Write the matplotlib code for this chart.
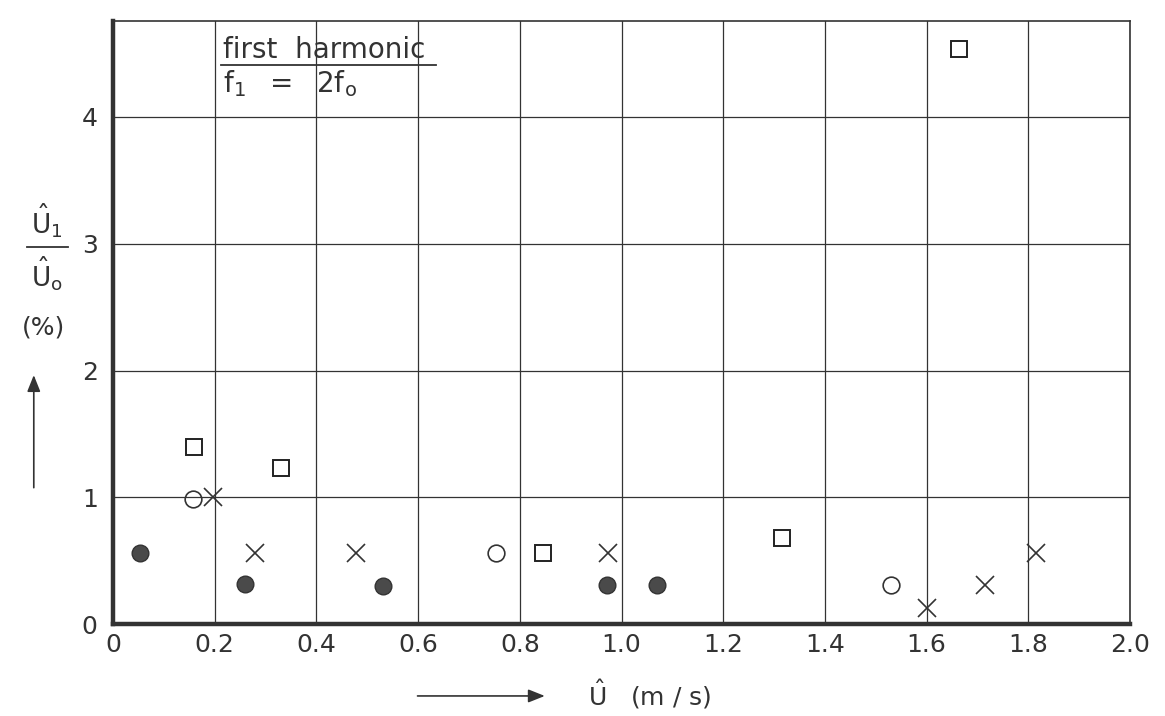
import matplotlib
matplotlib.use("Agg")
import matplotlib.pyplot as plt

# ---- data ----
filled_x = [0.053, 0.26, 0.53, 0.972, 1.07]
filled_y = [0.56, 0.32, 0.30, 0.31, 0.31]

open_x = [0.158, 0.753, 1.53]
open_y = [0.99, 0.56, 0.31]

square_x = [0.16, 0.33, 0.845, 1.315, 1.664]
square_y = [1.40, 1.23, 0.56, 0.68, 4.53]

cross_x = [0.196, 0.28, 0.477, 0.973, 1.60, 1.715, 1.815]
cross_y = [1.00, 0.56, 0.56, 0.56, 0.13, 0.31, 0.56]

x_ticks = [0, 0.2, 0.4, 0.6, 0.8, 1.0, 1.2, 1.4, 1.6, 1.8, 2.0]
x_ticklabels = ["0", "0.2", "0.4", "0.6", "0.8", "1.0", "1.2", "1.4", "1.6", "1.8", "2.0"]
y_ticks = [0, 1, 2, 3, 4]
y_ticklabels = ["0", "1", "2", "3", "4"]

plt.rcParams['font.family'] = ['DejaVu Sans']
plt.rcParams['mathtext.default'] = 'regular'
plt.rcParams['mathtext.fontset'] = 'dejavusans'

INK = '#333333'

fig = plt.figure(figsize=(11.65, 7.16), dpi=100)
ax = fig.add_axes([0.097, 0.128, 0.873, 0.842])
ax.set_xlim(0, 2.0)
ax.set_ylim(0, 4.75)

ax.set_xticks(x_ticks)
ax.set_xticklabels(x_ticklabels)
ax.set_yticks(y_ticks)
ax.set_yticklabels(y_ticklabels)
ax.tick_params(axis='both', length=0, labelsize=18, colors=INK)
ax.tick_params(axis='x', pad=6)
ax.tick_params(axis='y', pad=11)
ax.grid(True, color=INK, lw=0.9)
ax.set_axisbelow(True)

for s in ['top', 'right']:
    ax.spines[s].set_linewidth(1.2)
    ax.spines[s].set_color(INK)
for s in ['left', 'bottom']:
    ax.spines[s].set_linewidth(3.2)
    ax.spines[s].set_color(INK)

ax.plot(filled_x, filled_y, 'o', ms=12, mfc='#4a4a4a', mec='#333333', mew=1.0, ls='none', zorder=3)
ax.plot(open_x, open_y, 'o', ms=12, mfc='none', mec=INK, mew=1.2, ls='none', zorder=3)
ax.plot(square_x, square_y, 's', ms=12, mfc='none', mec='#222222', mew=1.4, ls='none', zorder=3)
ax.plot(cross_x, cross_y, 'x', ms=13, mec=INK, mew=1.2, ls='none', zorder=3)

# annotation text
ax.text(0.217, 4.46, "first  harmonic", fontsize=20, color=INK, ha='left', va='baseline')
ax.plot([0.213, 0.635], [4.41, 4.41], color=INK, lw=1.3, clip_on=False)
ax.text(0.217, 4.19, r"$f_1\ \ =\ \ 2f_o$", fontsize=20, color=INK, ha='left', va='baseline')

# y label (stacked fraction, percent and arrow)
fig.text(0.040, 0.665, r"$\hat{U}_1$", fontsize=19, color=INK, ha='center', va='bottom')
fig.add_artist(plt.Line2D([0.023, 0.058], [0.655, 0.655], color=INK, lw=1.3))
fig.text(0.040, 0.645, r"$\hat{U}_o$", fontsize=19, color=INK, ha='center', va='top')
fig.text(0.037, 0.542, "(%)", fontsize=18, color=INK, ha='center', va='center')
fig.add_artist(matplotlib.patches.FancyArrowPatch((0.029, 0.315), (0.029, 0.48),
               transform=fig.transFigure, arrowstyle='-|>,head_length=10,head_width=4',
               color=INK, lw=1.2))

# x label
fig.add_artist(matplotlib.patches.FancyArrowPatch((0.356, 0.028), (0.47, 0.028),
               transform=fig.transFigure, arrowstyle='-|>,head_length=10,head_width=4',
               color=INK, lw=1.2))
fig.text(0.505, 0.030, r"$\hat{U}$   (m / s)", fontsize=18, color=INK, ha='left', va='center')

fig.savefig("out.png", dpi=100)
